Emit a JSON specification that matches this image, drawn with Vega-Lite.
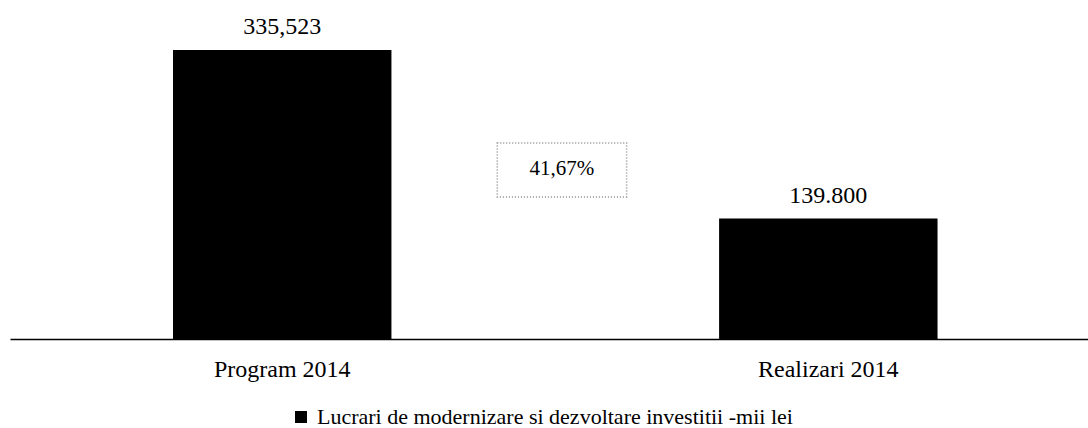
{
  "$schema": "https://vega.github.io/schema/vega-lite/v6.json",
  "width": 1078,
  "height": 339,
  "autosize": {"type": "none"},
  "padding": {"left": 10, "top": 0, "right": 0, "bottom": 89},
  "background": "white",
  "config": {"view": {"stroke": null}, "font": "Liberation Serif"},
  "datasets": {
    "bars": [
      {"category": "Program 2014", "value": 335.523, "label": "335,523", "series": "Lucrari de modernizare si dezvoltare investitii -mii lei"},
      {"category": "Realizari 2014", "value": 139.8, "label": "139.800", "series": "Lucrari de modernizare si dezvoltare investitii -mii lei"}
    ],
    "box": [
      {"x1": 0.452, "x2": 0.572, "y1": 165, "y2": 227.6, "xm": 0.512, "ym": 197, "text": "41,67%"}
    ]
  },
  "layer": [
    {
      "data": {"name": "bars"},
      "layer": [
        {
          "mark": {"type": "bar", "color": "black"},
          "encoding": {
            "x": {
              "field": "category", "type": "nominal", "sort": null,
              "scale": {"paddingInner": 0.6, "paddingOuter": 0.287, "align": 0.52},
              "axis": {"title": null, "ticks": false, "domainColor": "black", "domainWidth": 1.5, "labelAngle": 0, "labelPadding": 18, "labelFontSize": 24, "labelFont": "Liberation Serif", "labelColor": "black"}
            },
            "y": {"field": "value", "type": "quantitative", "scale": {"domain": [0, 393.6], "nice": false}, "axis": null},
            "color": {
              "field": "series", "type": "nominal", "scale": {"range": ["black"]},
              "legend": {"title": null, "orient": "none", "legendX": 280, "legendY": 406, "padding": 0, "symbolType": "square", "symbolSize": 144, "symbolStrokeWidth": 0, "labelFontSize": 22, "labelFont": "Liberation Serif", "labelColor": "black", "labelOffset": 5, "labelLimit": 0}
            }
          }
        },
        {
          "mark": {"type": "text", "baseline": "alphabetic", "dy": -16, "fontSize": 24, "font": "Liberation Serif", "color": "black"},
          "encoding": {
            "x": {"field": "category", "type": "nominal", "sort": null},
            "y": {"field": "value", "type": "quantitative"},
            "text": {"field": "label"}
          }
        }
      ]
    },
    {
      "data": {"name": "box"},
      "layer": [
        {
          "mark": {"type": "rect", "fill": "white", "stroke": "#8a8a8a", "strokeWidth": 1.5, "strokeDash": [1, 2]},
          "encoding": {
            "x": {"field": "x1", "type": "quantitative", "scale": {"domain": [0, 1], "nice": false, "zero": false}, "axis": null},
            "x2": {"field": "x2"},
            "y": {"field": "y1", "type": "quantitative"},
            "y2": {"field": "y2"}
          }
        },
        {
          "mark": {"type": "text", "fontSize": 21, "font": "Liberation Serif", "color": "black", "baseline": "middle", "align": "center"},
          "encoding": {
            "x": {"field": "xm", "type": "quantitative"},
            "y": {"field": "ym", "type": "quantitative"},
            "text": {"field": "text"}
          }
        }
      ]
    }
  ],
  "resolve": {"scale": {"x": "independent"}}
}
